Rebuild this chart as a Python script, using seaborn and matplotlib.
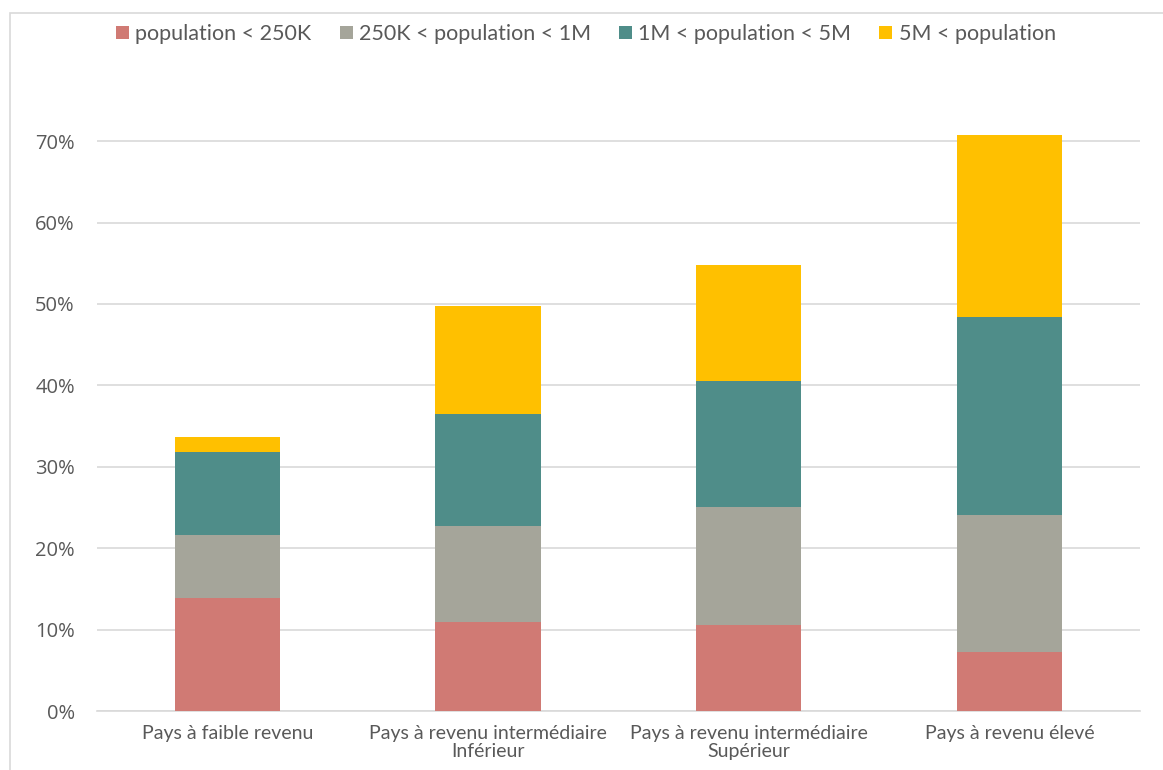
import matplotlib
matplotlib.use("Agg")
import matplotlib.pyplot as plt
import seaborn as sns
import numpy as np
import pandas as pd
from matplotlib.patches import Rectangle, Patch
from matplotlib.ticker import PercentFormatter

# Income groups (x axis)
categories = [
    "Pays à faible revenu",
    "Pays à revenu intermédiaire\nInférieur",
    "Pays à revenu intermédiaire\nSupérieur",
    "Pays à revenu élevé",
]

# City-size classes, bottom to top of each stack
series_names = [
    "population < 250K",
    "250K < population < 1M",
    "1M < population < 5M",
    "5M < population",
]

# Share of each class (%)
pop_lt_250k = [13.9, 10.9, 10.6, 7.2]
pop_250k_1m = [7.7, 11.8, 14.5, 16.9]
pop_1m_5m = [10.2, 13.8, 15.5, 24.3]
pop_gt_5m = [1.9, 13.2, 14.2, 22.3]

yticks = [0, 10, 20, 30, 40, 50, 60, 70]
colors = ["#D07A74", "#A5A59A", "#4F8D89", "#FFC000"]
text_color = "#595959"
grid_color = "#D9D9D9"

sns.set_theme(style="white")
plt.rcParams["font.family"] = ["Lato", "DejaVu Sans"]

fig = plt.figure(figsize=(11.63, 7.70), dpi=100)
ax = fig.add_axes([0.0834, 0.0766, 0.8966, 0.7929])

series = [pop_lt_250k, pop_250k_1m, pop_1m_5m, pop_gt_5m]
totals = np.cumsum(np.array(series), axis=0)

# Stacked bars: draw cumulative totals from the top segment down
for level in range(len(series) - 1, -1, -1):
    df = pd.DataFrame({"groupe": categories, "part": totals[level]})
    sns.barplot(data=df, x="groupe", y="part", order=categories,
                color=colors[level], saturation=1, width=0.405,
                linewidth=0, ax=ax, zorder=3)

ax.set_xlim(-0.5, 3.5)
ax.set_ylim(0, 75)
ax.set_yticks(yticks)
ax.yaxis.set_major_formatter(PercentFormatter(100, decimals=0))
ax.grid(axis="y", color=grid_color, linewidth=1.2, zorder=0)
ax.set_axisbelow(True)
for side in ["top", "right", "left"]:
    ax.spines[side].set_visible(False)
ax.spines["bottom"].set_color(grid_color)
ax.spines["bottom"].set_linewidth(1.2)
ax.set_xlabel("")
ax.set_ylabel("")
ax.tick_params(axis="y", length=0, pad=16, labelsize=14.5, labelcolor=text_color)
ax.tick_params(axis="x", length=0, pad=10, labelsize=14, labelcolor=text_color)
for lab in ax.get_yticklabels():
    lab.set_fontfamily(["Open Sans", "DejaVu Sans"])
for lab in ax.get_xticklabels():
    lab.set_linespacing(1.1)

handles = [Patch(facecolor=c, edgecolor="none") for c in colors]
fig.legend(handles, series_names, loc="center", bbox_to_anchor=(586 / 1163, 1 - 34 / 770),
           ncol=4, frameon=False, fontsize=15.5, labelcolor=text_color,
           handlelength=0.6, handleheight=0.6, handletextpad=0.3, columnspacing=1.3)

# Chart frame
fig.patches.append(Rectangle((10 / 1163, -0.05), 1.2, 1 - 13 / 770 + 0.05,
                             transform=fig.transFigure, fill=False,
                             edgecolor=grid_color, linewidth=1.2))

fig.savefig("out.png", dpi=100, facecolor="white")
